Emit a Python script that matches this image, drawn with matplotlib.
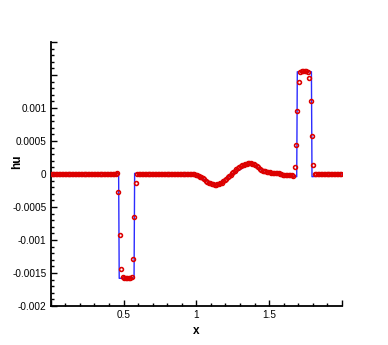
import numpy as np
import matplotlib.pyplot as plt
from matplotlib.ticker import FixedLocator, FixedFormatter, MultipleLocator

plt.rcParams['font.family'] = ['Liberation Sans', 'DejaVu Sans']

# ---- data: coarse-mesh solution (cell centres, dx = 0.01) ----
x_num = np.linspace(0.005, 1.995, 200)
hu_num = [
    0, 0, 0, 0, 0, 0, 0, 0, 0, 0,
    0, 0, 0, 0, 0, 0, 0, 0, 0, 0,
    0, 0, 0, 0, 0, 0, 0, 0, 0, 0,
    0, 0, 0, 0, 0, 0, 0, 0, 0, 0,
    0, 0, 0, 0, 0, 0.00002, -0.00027, -0.00092, -0.00144, -0.00156,
    -0.00157, -0.00157, -0.00157, -0.00157, -0.00157, -0.00156, -0.00129, -0.00065, -0.00013, 0,
    0, 0, 0, 0, 0, 0, 0, 0, 0, 0,
    0, 0, 0, 0, 0, 0, 0, 0, 0, 0,
    0, 0, 0, 0, 0, 0, 0, 0, 0, 0,
    0, 0, 0, 0, 0, 0, 0, 0, -0.000005, -0.00001,
    -0.00002, -0.00003, -0.00004, -0.00005, -0.00006, -0.00008, -0.00010, -0.00012, -0.00013, -0.00014,
    -0.00015, -0.000155, -0.00016, -0.00016, -0.000155, -0.00015, -0.00014, -0.00013, -0.00011, -0.00009,
    -0.00007, -0.00005, -0.00003, -0.00001, 0.00001, 0.00003, 0.00005, 0.00007, 0.00009, 0.00011,
    0.00012, 0.00013, 0.00014, 0.00015, 0.000155, 0.00016, 0.00016, 0.00016, 0.000155, 0.00015,
    0.00014, 0.00012, 0.00010, 0.00008, 0.00006, 0.00005, 0.00004, 0.00004, 0.00003, 0.00003,
    0.00003, 0.00002, 0.00002, 0.00002, 0.00001, 0.00001, 0.00001, 0.0, 0.0, -0.00001,
    -0.00001, -0.00001, -0.00002, -0.00002, -0.00002, -0.00002, -0.00003, 0.0001, 0.00044, 0.00095,
    0.00139, 0.00155, 0.00156, 0.00156, 0.00156, 0.00156, 0.00155, 0.00145, 0.00111, 0.00057,
    0.00013, 0, 0, 0, 0, 0, 0, 0, 0, 0,
    0, 0, 0, 0, 0, 0, 0, 0, 0, 0,
]

# ---- data: reference (fine) solution ----
x_ref = [0.0, 0.466, 0.470, 0.572, 0.576, 0.98, 1.06, 1.14, 1.25, 1.37, 1.45, 1.55,
         1.690, 1.694, 1.791, 1.795, 2.0]
hu_ref = [0.0, 0.00001, -0.00158, -0.00158, 0.00001, 0.0, -0.00009, -0.00016, 0.0, 0.00016,
          0.00006, 0.00001, -0.00004, 0.00155, 0.00155, -0.00004, 0.0]

# y tick values / labels
yticks = [-0.002, -0.0015, -0.001, -0.0005, 0, 0.0005, 0.001, 0.0015, 0.002]
ylabels = ['-0.002', '-0.0015', '-0.001', '-0.0005', '0', '0.0005', '0.001', '', '']
xticks = [0, 0.5, 1, 1.5, 2]
xlabels = ['', '0.5', '1', '1.5', '']

fig = plt.figure(figsize=(3.88, 3.45), dpi=100)
ax = fig.add_axes([0.131, 0.113, 0.75, 0.765])

ax.plot(x_ref, hu_ref, color='#2c2cff', lw=1.0, zorder=2)
pts, = ax.plot(x_num, hu_num, ls='none', marker='o', ms=2.8, mfc='none', mec='#dd0000',
               mew=1.15, zorder=3)
pts.set_snap(False)

ax.set_xlim(0, 2.0)
ax.set_ylim(-0.002, 0.002)

for s in ['top', 'right']:
    ax.spines[s].set_visible(False)
for s in ['left', 'bottom']:
    ax.spines[s].set_linewidth(1.3)

ax.xaxis.set_major_locator(FixedLocator(xticks))
ax.xaxis.set_major_formatter(FixedFormatter(xlabels))
ax.xaxis.set_minor_locator(MultipleLocator(0.1))
ax.yaxis.set_major_locator(FixedLocator(yticks))
ax.yaxis.set_major_formatter(FixedFormatter(ylabels))
ax.yaxis.set_minor_locator(MultipleLocator(0.0001))

ax.tick_params(which='both', direction='in', labelsize=7.2, pad=3, width=1.0)
ax.tick_params(which='major', length=4.5)
ax.tick_params(which='minor', length=2.5)

ax.set_xlabel('x', fontsize=8.5, fontweight='bold')
ax.set_ylabel('hu', fontsize=8.5, fontweight='bold')
ax.xaxis.set_label_coords(0.5, -0.072)
ax.yaxis.set_label_coords(-0.094, 0.547)

fig.savefig('out.png', dpi=100, facecolor='white')
